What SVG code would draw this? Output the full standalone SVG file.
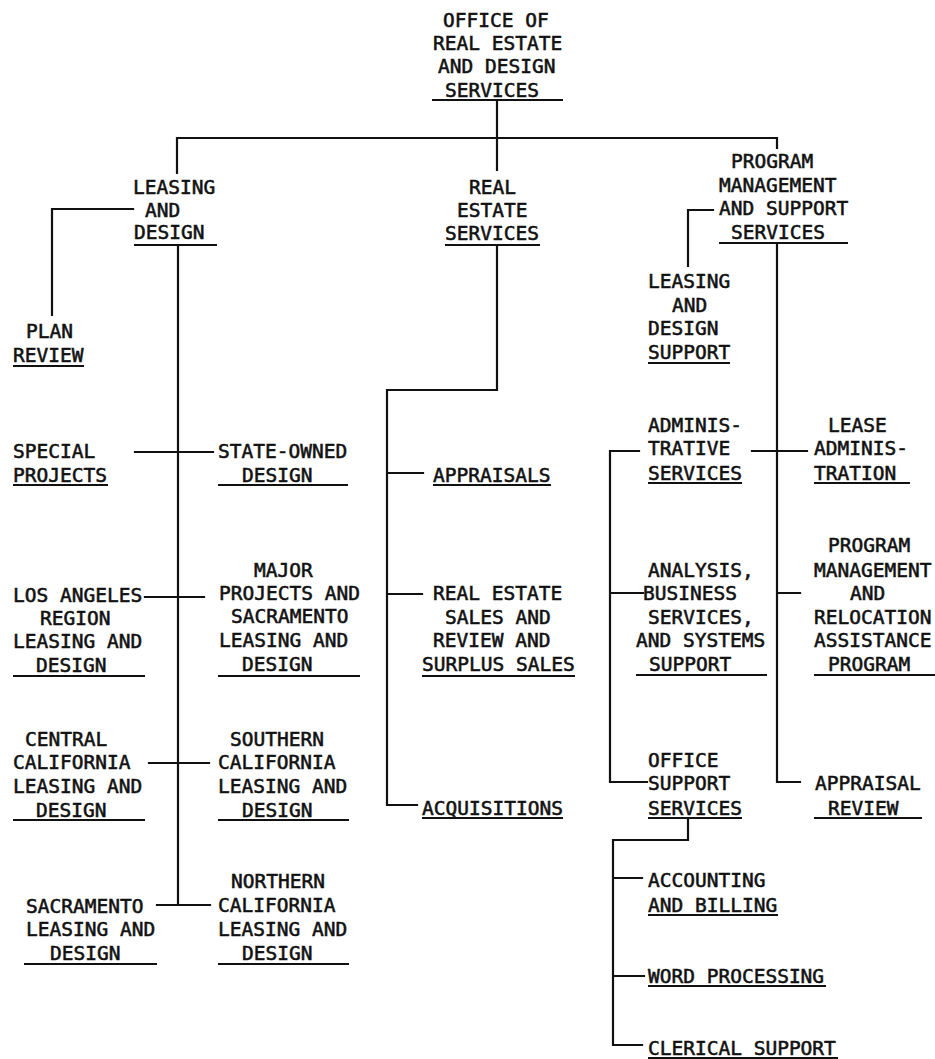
<svg xmlns="http://www.w3.org/2000/svg" width="935" height="1059" viewBox="0 0 935 1059">
<style>
text{font-family:"DejaVu Sans Mono","Liberation Mono",monospace;font-size:19.5px;fill:#111;stroke:#111;stroke-width:0.55}
.u{stroke:#111;stroke-width:2;fill:none}
.c{stroke:#111;stroke-width:2.2;fill:none;stroke-linecap:square}
</style>
<rect width="935" height="1059" fill="#fff"/>
<g id="connectors">
<path class="c" d="M497 100V138M177 173V138H777V148M497 138V170"/>
<path class="c" d="M133 209H52V315M178 245V905M135 452H213M145 597H204M149 763H209M157 905H210"/>
<path class="c" d="M497 245V390H387V805H417M387 473H423M387 594H422"/>
<path class="c" d="M713 210H688V266M777 243V782H800M752 451H807M777 593H800"/>
<path class="c" d="M639 451H610V782H647M610 593H643"/>
<path class="c" d="M688 818V840H613V1045H642M613 878H642M613 976H644"/>
</g>
<g id="office-of-real-estate">
<text x="443" y="27">OFFICE OF</text>
<text x="433" y="50">REAL ESTATE</text>
<text x="438" y="73">AND DESIGN</text>
<text x="445" y="97">SERVICES</text>
<path class="u" d="M432 100H563"/>
</g>
<g id="leasing-and-design">
<text x="133" y="194">LEASING</text>
<text x="145" y="217">AND</text>
<text x="134" y="239">DESIGN</text>
<path class="u" d="M134 245H217"/>
</g>
<g id="real-estate-services">
<text x="469" y="194">REAL</text>
<text x="457" y="217">ESTATE</text>
<text x="445" y="240">SERVICES</text>
<path class="u" d="M445 245H540"/>
</g>
<g id="program-management-support">
<text x="731" y="168">PROGRAM</text>
<text x="719" y="192">MANAGEMENT</text>
<text x="719" y="215">AND SUPPORT</text>
<text x="731" y="239">SERVICES</text>
<path class="u" d="M719 243H848"/>
</g>
<g id="plan-review">
<text x="26" y="338">PLAN</text>
<text x="13" y="362">REVIEW</text>
<path class="u" d="M13 366H84"/>
</g>
<g id="leasing-design-support">
<text x="648" y="288">LEASING</text>
<text x="672" y="312">AND</text>
<text x="648" y="335">DESIGN</text>
<text x="648" y="359">SUPPORT</text>
<path class="u" d="M648 363H730"/>
</g>
<g id="special-projects">
<text x="13" y="458">SPECIAL</text>
<text x="13" y="482">PROJECTS</text>
<path class="u" d="M13 485H108"/>
</g>
<g id="state-owned-design">
<text x="218" y="458">STATE-OWNED</text>
<text x="242" y="482">DESIGN</text>
<path class="u" d="M218 485H348"/>
</g>
<g id="appraisals">
<text x="433" y="482">APPRAISALS</text>
<path class="u" d="M433 485H551"/>
</g>
<g id="administrative-services">
<text x="648" y="432">ADMINIS-</text>
<text x="648" y="455">TRATIVE</text>
<text x="648" y="480">SERVICES</text>
<path class="u" d="M648 483H742"/>
</g>
<g id="lease-administration">
<text x="828" y="432">LEASE</text>
<text x="814" y="455">ADMINIS-</text>
<text x="814" y="480">TRATION</text>
<path class="u" d="M814 483H910"/>
</g>
<g id="los-angeles">
<text x="13" y="602">LOS ANGELES</text>
<text x="40" y="625">REGION</text>
<text x="13" y="648">LEASING AND</text>
<text x="36" y="672">DESIGN</text>
<path class="u" d="M13 676H145"/>
</g>
<g id="major-projects">
<text x="254" y="577">MAJOR</text>
<text x="219" y="600">PROJECTS AND</text>
<text x="231" y="623">SACRAMENTO</text>
<text x="219" y="647">LEASING AND</text>
<text x="242" y="671">DESIGN</text>
<path class="u" d="M218 676H360"/>
</g>
<g id="real-estate-sales">
<text x="433" y="600">REAL ESTATE</text>
<text x="445" y="624">SALES AND</text>
<text x="433" y="647">REVIEW AND</text>
<text x="422" y="671">SURPLUS SALES</text>
<path class="u" d="M422 676H575"/>
</g>
<g id="analysis-business">
<text x="648" y="577">ANALYSIS,</text>
<text x="643" y="600">BUSINESS</text>
<text x="648" y="624">SERVICES,</text>
<text x="636" y="647">AND SYSTEMS</text>
<text x="649" y="671">SUPPORT</text>
<path class="u" d="M636 675H767"/>
</g>
<g id="program-management-relocation">
<text x="828" y="552">PROGRAM</text>
<text x="814" y="577">MANAGEMENT</text>
<text x="850" y="600">AND</text>
<text x="814" y="624">RELOCATION</text>
<text x="814" y="647">ASSISTANCE</text>
<text x="828" y="671">PROGRAM</text>
<path class="u" d="M814 675H935"/>
</g>
<g id="central-california">
<text x="25" y="746">CENTRAL</text>
<text x="13" y="769">CALIFORNIA</text>
<text x="13" y="793">LEASING AND</text>
<text x="36" y="817">DESIGN</text>
<path class="u" d="M13 820H145"/>
</g>
<g id="southern-california">
<text x="230" y="746">SOUTHERN</text>
<text x="218" y="769">CALIFORNIA</text>
<text x="218" y="793">LEASING AND</text>
<text x="242" y="817">DESIGN</text>
<path class="u" d="M218 820H349"/>
</g>
<g id="acquisitions">
<text x="422" y="815">ACQUISITIONS</text>
<path class="u" d="M422 818H563"/>
</g>
<g id="office-support-services">
<text x="648" y="767">OFFICE</text>
<text x="648" y="790">SUPPORT</text>
<text x="648" y="815">SERVICES</text>
<path class="u" d="M648 818H742"/>
</g>
<g id="appraisal-review">
<text x="815" y="790">APPRAISAL</text>
<text x="828" y="815">REVIEW</text>
<path class="u" d="M814 818H922"/>
</g>
<g id="sacramento">
<text x="26" y="913">SACRAMENTO</text>
<text x="26" y="936">LEASING AND</text>
<text x="50" y="960">DESIGN</text>
<path class="u" d="M24 964H157"/>
</g>
<g id="northern-california">
<text x="231" y="888">NORTHERN</text>
<text x="218" y="912">CALIFORNIA</text>
<text x="218" y="936">LEASING AND</text>
<text x="242" y="960">DESIGN</text>
<path class="u" d="M218 964H349"/>
</g>
<g id="accounting-billing">
<text x="648" y="887">ACCOUNTING</text>
<text x="648" y="912">AND BILLING</text>
<path class="u" d="M648 915H778"/>
</g>
<g id="word-processing">
<text x="648" y="983">WORD PROCESSING</text>
<path class="u" d="M648 986H826"/>
</g>
<g id="clerical-support">
<text x="648" y="1055">CLERICAL SUPPORT</text>
<path class="u" d="M648 1058H838"/>
</g>
</svg>
